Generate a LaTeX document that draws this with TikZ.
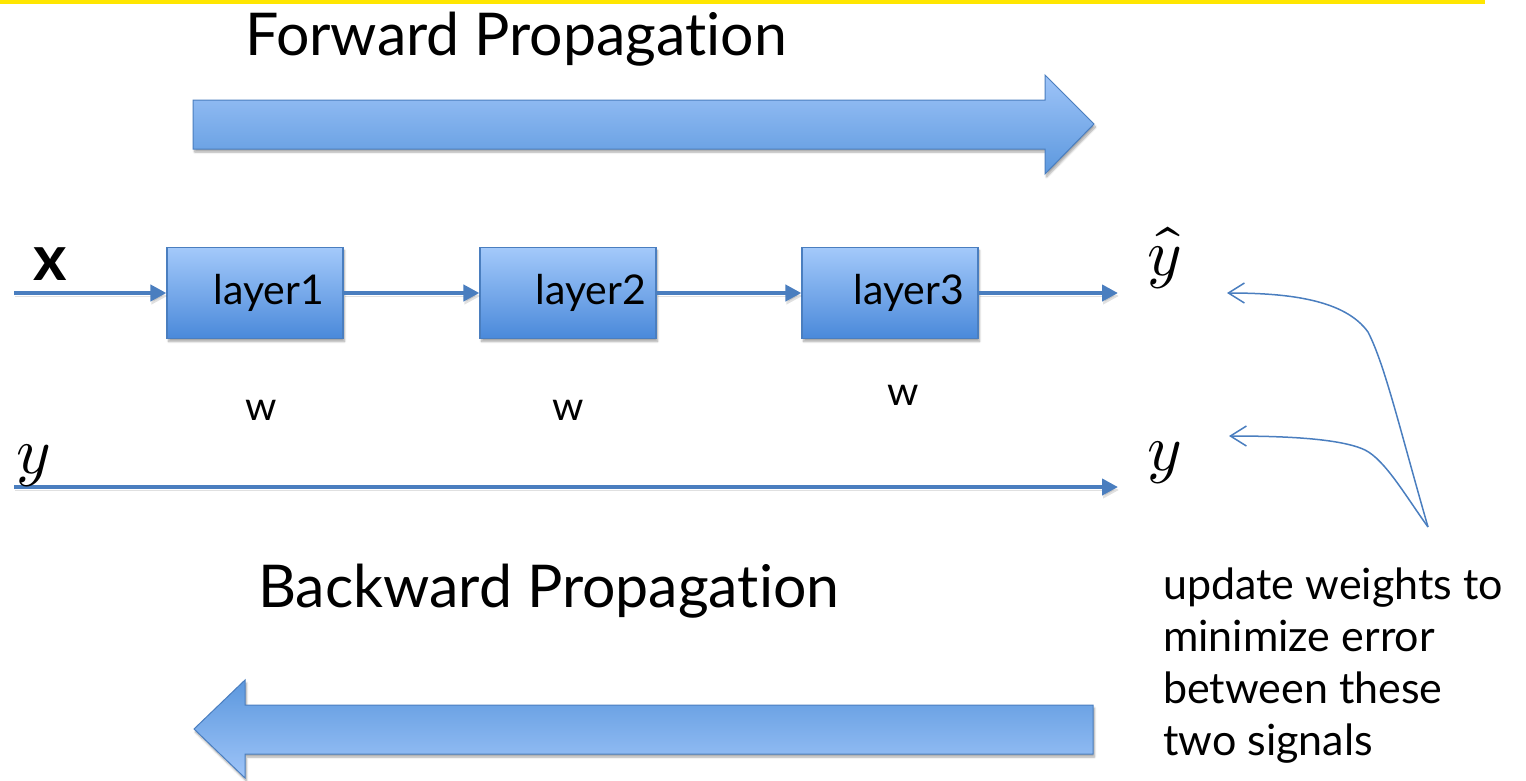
\documentclass[tikz,border=0pt]{standalone}
\usepackage{fontspec}
\usepackage{unicode-math}
\setmainfont{Lato}[Ligatures=NoCommon]
\setmathfont{Latin Modern Math}
\usetikzlibrary{arrows.meta,shadows.blur}

\definecolor{edge}{HTML}{4A7EBF}
\definecolor{boxtop}{HTML}{A3C9FA}
\definecolor{boxbot}{HTML}{4A89DA}
\definecolor{arrtop}{HTML}{9EC4F8}
\definecolor{arrbot}{HTML}{5C98DE}
\definecolor{hl}{HTML}{FFE600}

\tikzset{
  softshadow/.style={blur shadow={shadow xshift=1.5pt, shadow yshift=-3pt,
      shadow blur steps=6, shadow opacity=35}},
  layerbox/.style={draw=edge, line width=1.2pt, top color=boxtop,
      bottom color=boxbot, minimum width=176pt, minimum height=91pt,
      inner sep=0pt, softshadow},
  layertext/.style={font=\fontsize{41}{46}\selectfont, inner sep=0pt},
  flow/.style={draw=edge, line width=4.5pt, -{Triangle[length=16pt,width=16pt]},
      preaction={draw=black, opacity=0.12, transform canvas={xshift=1pt, yshift=-3pt}}},
  bigarrow/.style={draw=edge, line width=1pt, softshadow},
  title/.style={font=\fontsize{59}{66}\selectfont, anchor=base west, inner sep=0pt},
  weight/.style={font=\fontsize{40}{44}\selectfont, anchor=base, inner sep=0pt},
  sym/.style={font=\fontsize{66}{70}\selectfont, anchor=base, inner sep=0pt},
  hint/.style={draw=edge, line width=1.5pt,
      -{Straight Barb[length=16pt,width=20pt,line width=1.5pt]}},
}

\begin{document}
\begin{tikzpicture}[x=1pt,y=-1pt]
\useasboundingbox (0,0) rectangle (1526,780);

% yellow rule along the top edge
\fill[hl] (0,0) rectangle (1485,4);

% titles
\node[title] (fwd) at (245,55) {Forward Propagation};
\node[title] (bwd) at (258,607) {Backward Propagation};

% large direction arrows
\path[bigarrow, top color=arrtop, bottom color=arrbot]
  (193,100) -- (1045,100) -- (1045,75) -- (1094,124) -- (1045,174)
  -- (1045,149) -- (193,149) -- cycle;
\path[bigarrow, top color=arrbot, bottom color=arrtop]
  (1093,705) -- (245,705) -- (245,680) -- (194,729) -- (245,778)
  -- (245,754) -- (1093,754) -- cycle;

% the three layers
\node[layerbox] (l1) at (255,293) {};
\node[layerbox] (l2) at (568,293) {};
\node[layerbox] (l3) at (890,293) {};
\node[layertext] (t1) at ([xshift=14pt]l1.center) {layer1};
\node[layertext] (t2) at ([xshift=23pt]l2.center) {layer2};
\node[layertext] (t3) at ([xshift=19pt]l3.center) {layer3};

% weights
\node[weight] (w1) at (261,420) {w};
\node[weight] (w2) at (568,420) {w};
\node[weight] (w3) at (903,405) {w};

% input and outputs
\node[font=\fontsize{64}{70}\selectfont\bfseries, anchor=base, inner sep=0pt] (xl) at (50,280) {x};
\coordinate (xin) at (14,293);
\coordinate (yhend) at (1118,293);
\coordinate (ystart) at (14,487);
\coordinate (yend) at (1118,487);

\draw[flow] (xin) -- (l1.west);
\draw[flow] (l1.east) -- (l2.west);
\draw[flow] (l2.east) -- (l3.west);
\draw[flow] (l3.east) -- (yhend);
\draw[flow] (ystart) -- (yend);

\node[sym] (yl) at (34,473) {$y$};
\node[sym] (yh) at (1165,275) {$\hat{y}$};
\node[sym] (yr) at (1165,470) {$y$};

% note on the right
\coordinate (src) at (1428,527);
\coordinate (yhtip) at (1227,293);
\coordinate (ytip) at (1229,436);
\draw[hint] (src) .. controls (1400,430) and (1385,365) .. (1368,332)
  .. controls (1345,300) and (1290,293) .. (yhtip);
\draw[hint] (src) .. controls (1405,495) and (1385,460) .. (1365,450)
  .. controls (1340,438) and (1280,436) .. (ytip);

\node[anchor=base west, align=left, inner sep=0pt,
      font=\fontsize{43}{52}\selectfont] (note) at (1163,755)
  {update weights to\\minimize error\\between these\\two signals};
\end{tikzpicture}
\end{document}
